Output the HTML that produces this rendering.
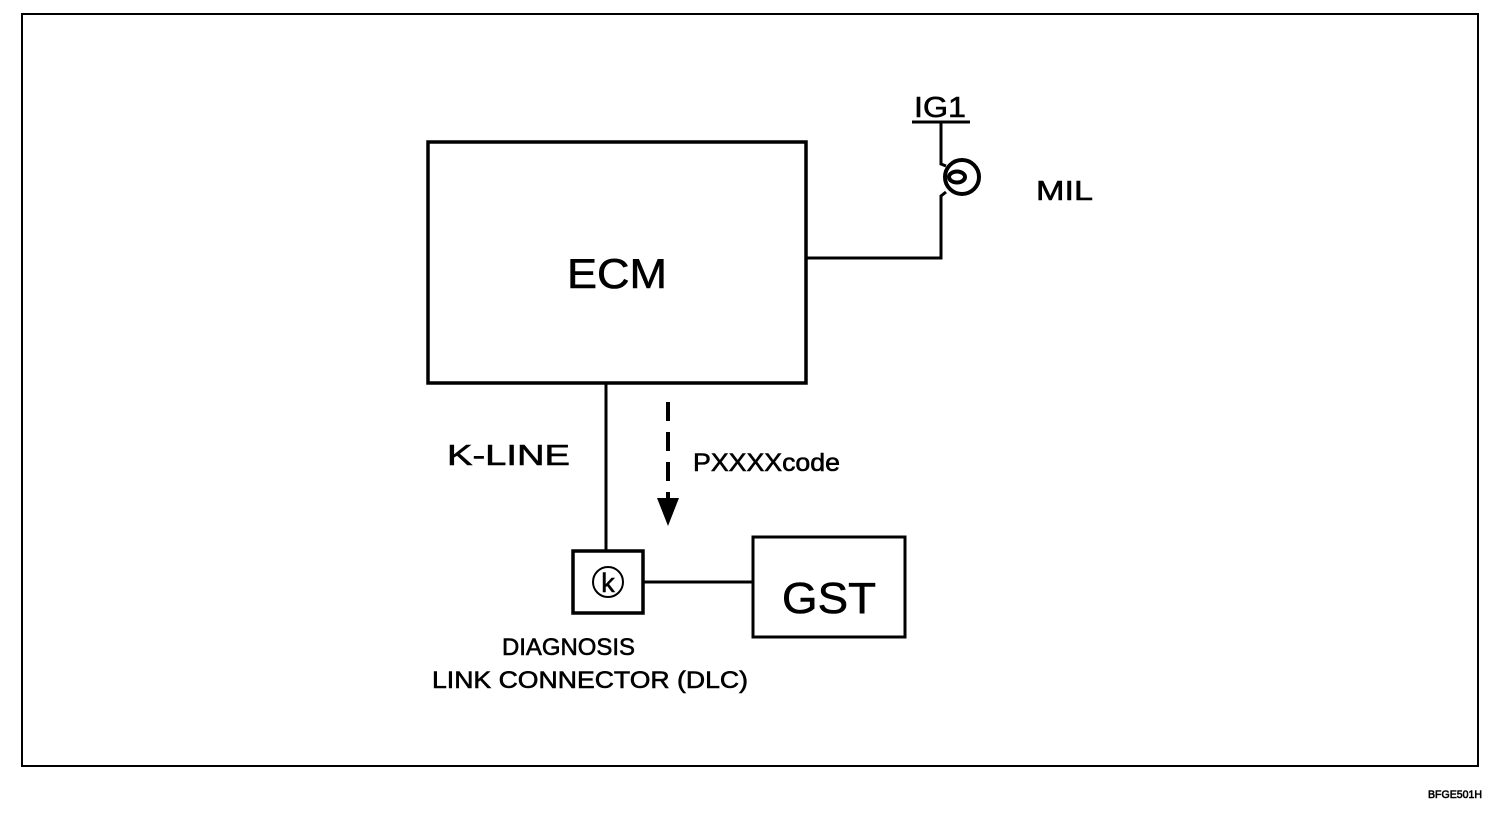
<!DOCTYPE html>
<html><head><style>
body{margin:0;background:#fff;}
svg text{font-family:"Liberation Sans",Arial,sans-serif;fill:#000;stroke:#000;stroke-width:0.6;}
</style></head><body>
<svg width="1504" height="812" viewBox="0 0 1504 812" xmlns="http://www.w3.org/2000/svg">
<rect x="22" y="14" width="1456" height="752" fill="none" stroke="#000" stroke-width="2"/>
<rect x="428" y="142" width="378" height="241" fill="none" stroke="#000" stroke-width="3.5"/>
<text x="567" y="288" font-size="42" textLength="100" lengthAdjust="spacingAndGlyphs">ECM</text>
<polyline points="806,258 941,258 941,196 946,192" fill="none" stroke="#000" stroke-width="3"/>
<line x1="912" y1="122" x2="970" y2="122" stroke="#000" stroke-width="3"/>
<text x="914" y="117" font-size="29" textLength="52" lengthAdjust="spacingAndGlyphs">IG1</text>
<polyline points="941,122 941,164 946,166" fill="none" stroke="#000" stroke-width="3"/>
<circle cx="962" cy="177" r="17" fill="none" stroke="#000" stroke-width="4"/>
<ellipse cx="957" cy="177" rx="8" ry="5.5" fill="none" stroke="#000" stroke-width="4"/>
<text x="1036" y="200" font-size="28" textLength="57" lengthAdjust="spacingAndGlyphs">MIL</text>
<line x1="606" y1="383" x2="606" y2="550" stroke="#000" stroke-width="3"/>
<text x="447" y="465" font-size="29" textLength="123" lengthAdjust="spacingAndGlyphs">K-LINE</text>
<line x1="668" y1="402" x2="668" y2="500" stroke="#000" stroke-width="4" stroke-dasharray="19,11"/>
<polygon points="657,498 679,498 668,526" fill="#000"/>
<text x="693" y="471" font-size="25" textLength="147" lengthAdjust="spacingAndGlyphs">PXXXXcode</text>
<rect x="573" y="551" width="70" height="62" fill="none" stroke="#000" stroke-width="3.5"/>
<circle cx="608" cy="582" r="15" fill="none" stroke="#000" stroke-width="2"/>
<text x="608" y="592" font-size="27" text-anchor="middle">k</text>
<line x1="643" y1="582" x2="753" y2="582" stroke="#000" stroke-width="3"/>
<rect x="753" y="537" width="152" height="100" fill="none" stroke="#000" stroke-width="3"/>
<text x="782" y="613" font-size="44" textLength="94" lengthAdjust="spacingAndGlyphs">GST</text>
<text x="502" y="655" font-size="24" textLength="133" lengthAdjust="spacingAndGlyphs">DIAGNOSIS</text>
<text x="432" y="688" font-size="24" textLength="316" lengthAdjust="spacingAndGlyphs">LINK CONNECTOR (DLC)</text>
<text x="1428" y="798" font-size="11" textLength="54" lengthAdjust="spacingAndGlyphs">BFGE501H</text>
</svg>
</body></html>
